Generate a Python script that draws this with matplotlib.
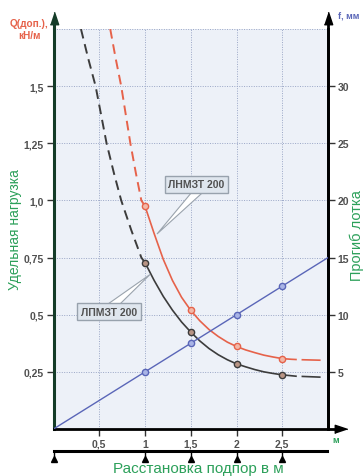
import matplotlib
matplotlib.use("Agg")
import matplotlib.pyplot as plt
from matplotlib.patches import Polygon

plt.rcParams['font.family'] = ['Liberation Sans', 'DejaVu Sans']

# ---------------- data ----------------
x_ticks = [0.5, 1, 1.5, 2, 2.5]
x_ticklabels = ["0,5", "1", "1,5", "2", "2,5"]
q_ticks = [0.25, 0.5, 0.75, 1.0, 1.25, 1.5]
q_ticklabels = ["0,25", "0,5", "0,75", "1,0", "1,25", "1,5"]
f_ticks = [5, 10, 15, 20, 25, 30]
f_ticklabels = ["5", "10", "15", "20", "25", "30"]
ruler_marks = [0, 1, 1.5, 2, 2.5]

# ЛНМЗТ 200 (red)
red_dash_x = [0.62, 0.68, 0.74, 0.79, 0.84, 0.90, 0.96, 1.0]
red_dash_q = [1.75, 1.62, 1.50, 1.375, 1.25, 1.12, 1.0, 0.975]
red_x = [1.0, 1.1, 1.2, 1.3, 1.4, 1.5, 1.6, 1.7, 1.8, 1.9, 2.0, 2.1, 2.2, 2.3, 2.4, 2.5, 2.6, 2.65]
red_q = [0.975, 0.855, 0.742, 0.65, 0.576, 0.519, 0.473, 0.435, 0.405, 0.38, 0.361, 0.346, 0.334, 0.323, 0.315, 0.308, 0.305, 0.304]
red_tail_x = [2.72, 2.91]
red_tail_q = [0.303, 0.301]
red_mark_x = [1.0, 1.5, 2.0, 2.5]
red_mark_q = [0.975, 0.519, 0.361, 0.308]

# ЛПМЗТ 200 (black)
blk_dash_x = [0.30, 0.38, 0.46, 0.52, 0.58, 0.66, 0.74, 0.85, 0.96, 1.0]
blk_dash_q = [1.75, 1.62, 1.50, 1.375, 1.25, 1.12, 1.0, 0.87, 0.75, 0.728]
blk_x = [1.0, 1.1, 1.2, 1.3, 1.4, 1.5, 1.6, 1.7, 1.8, 1.9, 2.0, 2.1, 2.2, 2.3, 2.4, 2.5, 2.6, 2.65]
blk_q = [0.728, 0.65, 0.58, 0.52, 0.468, 0.424, 0.385, 0.352, 0.325, 0.303, 0.285, 0.272, 0.26, 0.25, 0.243, 0.237, 0.233, 0.231]
blk_tail_x = [2.72, 2.91]
blk_tail_q = [0.23, 0.227]
blk_mark_x = [1.0, 1.5, 2.0, 2.5]
blk_mark_q = [0.728, 0.424, 0.285, 0.237]

# deflection f (blue, right axis, mm)
f_x = [0, 1, 1.5, 2, 2.5, 3]
f_mm = [0, 5, 7.5, 10, 12.5, 15]
f_mark_x = [1, 1.5, 2, 2.5]
f_mark_mm = [5, 7.5, 10, 12.5]

# ---------------- style ----------------
RED = "#e6624a"
BLK = "#3c3c3c"
BLUE = "#5a66b8"
GREEN = "#2ca05a"
GRAY = "#505050"
BG = "#edf1f8"
GRID = "#9aa6c6"

fig = plt.figure(figsize=(3.64, 4.77), dpi=100)
ax = fig.add_axes([53.5 / 364, 47 / 477, 274.5 / 364, 400 / 477])
ax.set_facecolor(BG)
ax.set_xlim(0, 3)
ax.set_ylim(0, 1.75)

ax.spines["top"].set_visible(False)
ax.spines["left"].set_color("#143c28")
ax.spines["left"].set_linewidth(2.2)
ax.spines["bottom"].set_color("black")
ax.spines["bottom"].set_linewidth(2.0)
ax.spines["right"].set_color("black")
ax.spines["right"].set_linewidth(2.0)

# grid
for xv in x_ticks:
    ax.axvline(xv, color=GRID, lw=0.7, ls=(0, (1, 1.5)), zorder=0)
for qv in q_ticks + [1.75]:
    ax.axhline(qv, color=GRID, lw=0.7, ls=(0, (1, 1.5)), zorder=0)

ax.set_xticks(x_ticks)
ax.set_xticklabels(x_ticklabels, fontweight="bold", color=GRAY, fontsize=7.5)
ax.set_yticks(q_ticks)
ax.set_yticklabels(q_ticklabels, fontweight="bold", color=GRAY, fontsize=7.5)
ax.tick_params(axis="both", length=5, width=1, color="#333333", pad=2)

ax2 = ax.twinx()
ax2.set_ylim(0, 35)
for s in ["top", "left", "bottom"]:
    ax2.spines[s].set_visible(False)
ax2.spines["right"].set_color("black")
ax2.spines["right"].set_linewidth(2.0)
ax2.set_yticks(f_ticks)
ax2.set_yticklabels(f_ticklabels, fontweight="bold", color=GRAY, fontsize=7.5)
ax2.tick_params(axis="y", length=5, width=1, color="#333333", pad=2)

# curves
ax.plot(red_dash_x, red_dash_q, color=RED, lw=1.4, ls=(0, (5, 3)), zorder=3)
ax.plot(red_x, red_q, color=RED, lw=1.2, zorder=3)
ax.plot(red_tail_x, red_tail_q, color=RED, lw=1.2, zorder=3)
ax.plot(blk_dash_x, blk_dash_q, color=BLK, lw=1.4, ls=(0, (5, 3)), zorder=3)
ax.plot(blk_x, blk_q, color=BLK, lw=1.2, zorder=3)
ax.plot(blk_tail_x, blk_tail_q, color=BLK, lw=1.2, zorder=3)
ax2.plot(f_x, f_mm, color=BLUE, lw=1.0, zorder=3)

ax.plot(red_mark_x, red_mark_q, "o", ms=4.5, mfc="#f2b8a8", mec=RED, mew=1, zorder=4)
ax.plot(blk_mark_x, blk_mark_q, "o", ms=4.5, mfc="#b89484", mec=BLK, mew=1, zorder=4)
ax2.plot(f_mark_x, f_mark_mm, "o", ms=4.5, mfc="#a9b4e6", mec=BLUE, mew=1, zorder=4)

# callouts
ax.add_patch(Polygon([(1.503, 1.032), (1.623, 1.032), (1.131, 0.853)], closed=True,
                     fc="white", ec="#9aa3ad", lw=0.8, zorder=5))
ax.add_patch(Polygon([(0.596, 0.547), (0.727, 0.547), (1.055, 0.676)], closed=True,
                     fc="white", ec="#9aa3ad", lw=0.8, zorder=5))
box = dict(boxstyle="square,pad=0.35", fc="#dfe6ee", ec="#98a2ad", lw=1)
ax.text(1.563, 1.07, "ЛНМЗТ 200", ha="center", va="center", fontsize=7.5,
        color=GRAY, fontweight="bold", bbox=box, zorder=6)
ax.text(0.607, 0.514, "ЛПМЗТ 200", ha="center", va="center", fontsize=7.5,
        color=GRAY, fontweight="bold", bbox=box, zorder=6)

# axis arrows
up = [(-1, -1.5), (1, -1.5), (0, 1.5)]
right = [(-1.5, -1), (-1.5, 1), (1.5, 0)]
ax.plot([0, 0], [1.75, 1.79], color="#143c28", lw=2.2, clip_on=False, solid_capstyle="butt")
ax.plot([0], [1.80], marker=up, ms=9, color="#143c28", clip_on=False)
ax.plot([3, 3], [1.75, 1.79], color="black", lw=2.0, clip_on=False, solid_capstyle="butt")
ax.plot([3], [1.80], marker=up, ms=9, color="black", clip_on=False)
ax.plot([3, 3.13], [0, 0], color="black", lw=2.0, clip_on=False, solid_capstyle="butt")
ax.plot([3.142], [0], marker=right, ms=9, color="black", clip_on=False)

# ruler under axis
ax.plot([0, 2.99], [-0.096, -0.096], color="black", lw=2.2, clip_on=False)
for xv in ruler_marks:
    ax.plot([xv, xv], [-0.096, -0.12], color="black", lw=1, clip_on=False)
ax.plot(ruler_marks, [-0.13] * len(ruler_marks), ls="none", marker="^", ms=4.5,
        color="black", clip_on=False)

# texts
fig.text(29.5 / 364, 1 - 30 / 477, "Q(доп.),\nкН/м", ha="center", va="center",
         fontsize=7.2, color=RED, fontweight="bold", linespacing=1.15)
fig.text(349 / 364, 1 - 16 / 477, "f, мм", ha="center", va="center",
         fontsize=6.5, color=BLUE, fontweight="bold")
fig.text(15 / 364, 1 - 230 / 477, "Удельная нагрузка", rotation=90,
         ha="center", va="center", fontsize=10, color=GREEN)
fig.text(357 / 364, 1 - 236 / 477, "Прогиб лотка", rotation=90,
         ha="center", va="center", fontsize=10.5, color=GREEN)
fig.text(336 / 364, 1 - 441 / 477, "м", ha="center", va="center",
         fontsize=6.5, color=GREEN, fontweight="bold")
fig.text(198 / 364, 1 - 469 / 477, "Расстановка подпор в м", ha="center", va="center",
         fontsize=11, color=GREEN)

fig.savefig("out.png", dpi=100)
